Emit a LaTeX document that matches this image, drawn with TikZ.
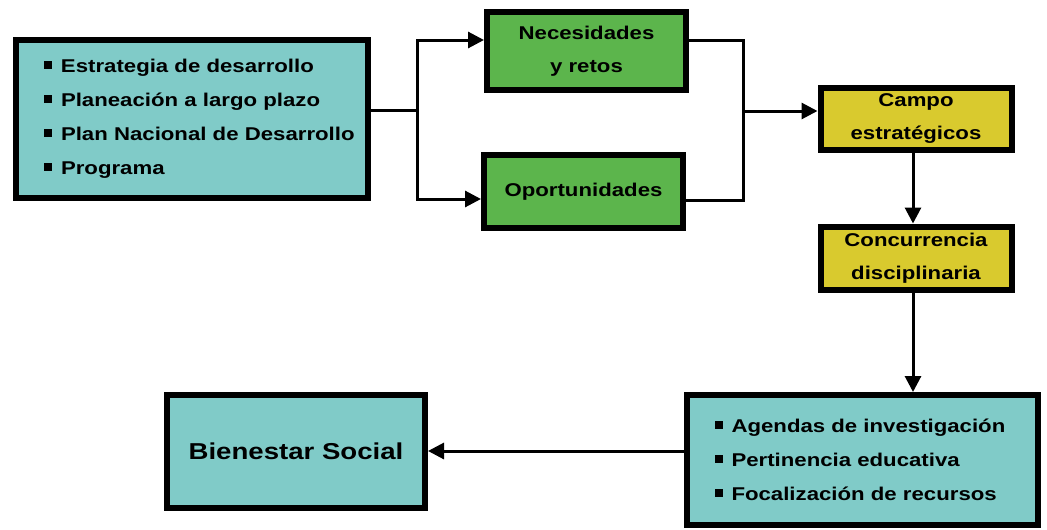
\documentclass[tikz,border=0pt]{standalone}
\usepackage{fontspec}
\usetikzlibrary{arrows.meta}
\newfontfamily\dfont{Liberation Sans Bold}[FakeStretch=1.2]
\definecolor{tealbox}{HTML}{80CBC8}
\definecolor{greenbox}{HTML}{5CB54C}
\definecolor{yellowbox}{HTML}{D9CA2E}
\newcommand\bul[1]{\mbox{\rule[4pt]{8pt}{8pt}\hspace{9pt}#1}}
\begin{document}
\begin{tikzpicture}[x=1pt,y=-1pt,
  box/.style={draw=black, line width=6pt, inner sep=0pt, align=center,
    font=\dfont\fontsize{18.5}{33}\selectfont},
  listbox/.style={box, align=left, inner xsep=28pt, font=\dfont\fontsize{18.5}{34}\selectfont},
  conn/.style={line width=3pt},
  arr/.style={conn, -{Triangle[length=16pt,width=16pt]}}]
\useasboundingbox (0,0) rectangle (1047,530);
\node[listbox, fill=tealbox, minimum width=352pt, minimum height=158pt, text width=296pt] (A) at (192,119)
  {\bul{Estrategia de desarrollo}\\\bul{Planeación a largo plazo}\\\bul{Plan Nacional de Desarrollo}\\\bul{Programa}};
\node[box, fill=greenbox, minimum width=199pt, minimum height=78pt] (N) at (586.5,51) {Necesidades\\y retos};
\node[box, fill=greenbox, minimum width=199pt, minimum height=73pt] (O) at (583.5,191.5) {Oportunidades};
\node[box, fill=yellowbox, minimum width=191pt, minimum height=62pt] (C) at (916,119) {Campo\\estratégicos};
\node[box, fill=yellowbox, minimum width=191pt, minimum height=63pt] (K) at (916,258) {Concurrencia\\disciplinaria};
\node[listbox, fill=tealbox, minimum width=351pt, minimum height=130pt, text width=295pt] (D) at (862,460)
  {\bul{Agendas de investigación}\\\bul{Pertinencia educativa}\\\bul{Focalización de recursos}};
\node[box, fill=tealbox, minimum width=258pt, minimum height=113pt, font=\dfont\fontsize{23}{28}\selectfont] (B) at (296,451) {Bienestar Social};
\coordinate (j1) at (417,110);
\coordinate (jn) at (417,40);
\coordinate (jo) at (417,199);
\coordinate (k1) at (743,111);
\coordinate (kn) at (743,40);
\coordinate (ko) at (743,200);
\coordinate (vx) at (913,0);
\draw[conn] (A.east |- j1) -- (j1);
\draw[arr] (j1) -- (jn) -- (N.west |- jn);
\draw[arr] (j1) -- (jo) -- (O.west |- jo);
\draw[conn] (N.east |- kn) -- (kn) -- (ko) -- (O.east |- ko);
\draw[arr] (k1) -- (C.west |- k1);
\draw[arr] (C.south -| vx) -- (K.north -| vx);
\draw[arr] (K.south -| vx) -- (D.north -| vx);
\draw[arr] (D.west |- B.east) -- (B.east);
\end{tikzpicture}
\end{document}
